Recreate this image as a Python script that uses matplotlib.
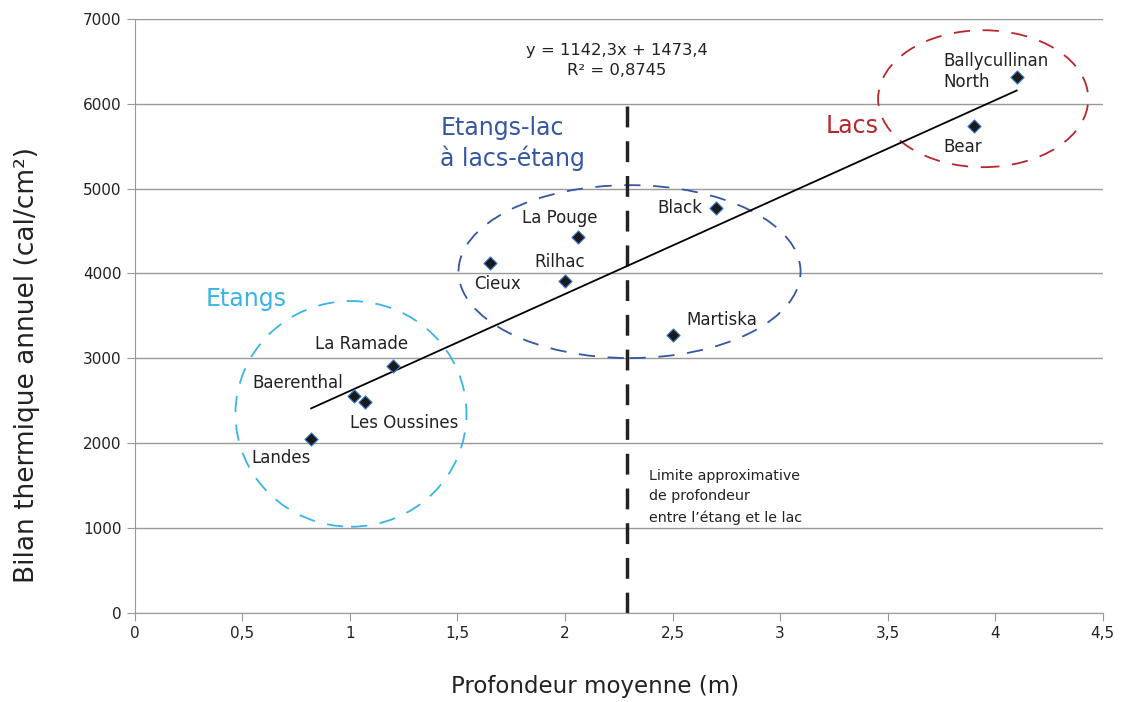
import matplotlib.pyplot as plt
from matplotlib.patches import Ellipse

# Données
lakes = ["Landes", "Baerenthal", "Les Oussines", "La Ramade", "Cieux", "Rilhac",
         "La Pouge", "Black", "Martiska", "Bear", "Ballycullinan\nNorth"]
depth = [0.82, 1.02, 1.07, 1.20, 1.65, 2.00, 2.06, 2.70, 2.50, 3.90, 4.10]
heat = [2050, 2556, 2485, 2910, 4120, 3910, 4430, 4770, 3275, 5735, 6313]

slope, intercept = 1142.3, 1473.4
limit_depth = 2.29

# décalages des étiquettes (en points)
offsets = [(-43, -14), (-73, 9), (-11, -15), (-56, 16), (-11, -15), (-22, 14),
           (-40, 14), (-42, 0), (10, 11), (-22, -15), (-53, 4)]

fig = plt.figure(figsize=(11.23, 7.02), dpi=100)
ax = fig.add_axes([0.120, 0.127, 0.862, 0.846])

ax.set_xlim(0, 4.5)
ax.set_ylim(0, 7000)
ax.set_yticks(range(0, 7001, 1000))
ax.set_xticks([0, 0.5, 1, 1.5, 2, 2.5, 3, 3.5, 4, 4.5])
ax.set_xticklabels(["0", "0,5", "1", "1,5", "2", "2,5", "3", "3,5", "4", "4,5"])
ax.grid(axis="y", color="#999999", linewidth=1)
ax.set_axisbelow(True)
for s in ["top", "right"]:
    ax.spines[s].set_visible(False)
for s in ["left", "bottom"]:
    ax.spines[s].set_color("#999999")
ax.tick_params(colors="#999999", labelcolor="#222222", labelsize=11, length=6)

# ellipses
ax.add_patch(Ellipse((1.005, 2345), 1.074, 2660, fill=False, ec="#3ab4e6",
                     lw=1.3, ls=(0, (9, 7))))
ax.add_patch(Ellipse((2.30, 4022), 1.59, 2038, fill=False, ec="#3556a3",
                     lw=1.3, ls=(0, (9, 7))))
ax.add_patch(Ellipse((3.944, 6060), 0.977, 1614, fill=False, ec="#b8262c",
                     lw=1.3, ls=(0, (9, 7))))

# limite étang / lac
ax.plot([limit_depth, limit_depth], [0, 6130], color="#222222", lw=2.5,
        ls=(0, (6, 4)))

# droite de régression
x0, x1 = min(depth), max(depth)
ax.plot([x0, x1], [slope * x0 + intercept, slope * x1 + intercept],
        color="black", lw=1.3)

ax.scatter(depth, heat, marker="D", s=45, c="#1a1a1a", edgecolors="#3a7bd5",
           linewidths=0.8, zorder=5)

for name, x, y, off in zip(lakes, depth, heat, offsets):
    ax.annotate(name, (x, y), xytext=off, textcoords="offset points",
                fontsize=12, color="#222222", va="center", ha="left")

ax.text(2.24, 6510, "y = 1142,3x + 1473,4\nR² = 0,8745", ha="center",
        va="center", fontsize=11.8, color="#222222", linespacing=1.4)
ax.text(2.39, 1370, "Limite approximative\nde profondeur\nentre l’étang et le lac",
        ha="left", va="center", fontsize=10.3, color="#222222", linespacing=1.6)

ax.text(0.33, 3700, "Etangs", fontsize=17, color="#3ab4e6", va="center")
ax.text(1.42, 5530, "Etangs-lac\nà lacs-étang", fontsize=17, color="#3556a3",
        va="center", linespacing=1.3)
ax.text(3.21, 5740, "Lacs", fontsize=17, color="#b8262c", va="center")

ax.set_xlabel("Profondeur moyenne (m)", fontsize=16.5, color="#222222")
ax.set_ylabel("Bilan thermique annuel (cal/cm²)", fontsize=19, color="#222222")
ax.xaxis.set_label_coords(0.476, -0.105)
ax.yaxis.set_label_coords(-0.098, 0.417)

fig.savefig("out.png", dpi=100)
